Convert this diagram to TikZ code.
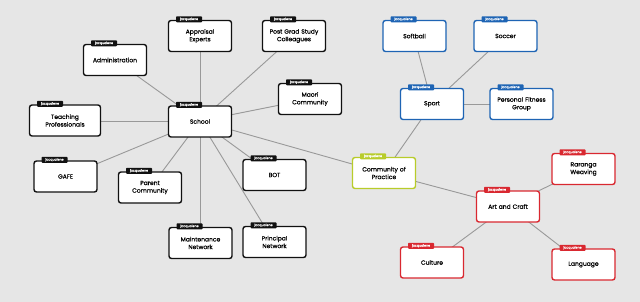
\documentclass[tikz,border=0pt]{standalone}
\usepackage{fontspec}
\setmainfont{Poppins}
\newfontfamily\cardfont{Poppins}[FakeBold=0.6]
\newfontfamily\tagfont{Poppins}[FakeBold=0.4]
\definecolor{bg}{HTML}{E6E6E6}
\definecolor{edgec}{HTML}{999999}
\definecolor{blk}{HTML}{111111}
\definecolor{blu}{HTML}{1E64B4}
\definecolor{grn}{HTML}{B8CC2A}
\definecolor{rd}{HTML}{D92830}
\tikzset{
  card/.style={draw=#1, fill=white, line width=1.4pt, rounded corners=2.5pt,
    minimum width=63pt, minimum height=31pt, inner sep=1pt, align=center,
    font=\cardfont\fontsize{6}{7.6}\selectfont, text width=60pt},
  card/.default=blk,
  tagbox/.style={fill=#1, inner sep=0pt, minimum width=26pt, minimum height=6pt,
    rounded corners=0.8pt,
    text=white, font=\tagfont\fontsize{3.2}{3.2}\selectfont, anchor=west},
  link/.style={draw=edgec, line width=0.9pt}
}
\newcommand{\cardnode}[5]{%
  \node[card=#2] (#1) at (#3,#4) {#5};
  \node[tagbox=#2] (#1tag) at ([xshift=8pt,yshift=0.5pt]#1.north west) {jacqualene};
}
\begin{document}
\begin{tikzpicture}[x=1pt,y=-1pt]
\fill[bg] (0,0) rectangle (640,302);
\useasboundingbox (0,0) rectangle (640,302);
\begin{scope}[every node/.style={inner sep=0pt, minimum size=0pt}]
\node (cschool) at (200,121) {};
\node (cadmin) at (115,60) {};
\node (capp) at (200,36) {};
\node (cpost) at (294,36) {};
\node (cmaori) at (310,99) {};
\node (cteach) at (65,121) {};
\node (cgafe) at (65,177) {};
\node (cparent) at (150,188) {};
\node (cmaint) at (200,243) {};
\node (cprin) at (274,242) {};
\node (cbot) at (274,175) {};
\node (ccop) at (384,173) {};
\node (csport) at (432,104) {};
\node (csoft) at (414,36) {};
\node (csoc) at (505,36) {};
\node (cpfg) at (522,104) {};
\node (cart) at (508,206) {};
\node (crar) at (583,169) {};
\node (ccul) at (432,262) {};
\node (clang) at (583,264) {};
\end{scope}
\foreach \t in {cadmin,capp,cpost,cmaori,cteach,cgafe,cparent,cmaint,cprin,cbot,ccop}
  \draw[link] (cschool) -- (\t);
\foreach \t in {csport,cart}
  \draw[link] (ccop) -- (\t);
\foreach \t in {csoft,csoc,cpfg}
  \draw[link] (csport) -- (\t);
\foreach \t in {crar,ccul,clang}
  \draw[link] (cart) -- (\t);
\cardnode{school}{blk}{200}{121.5}{School}
\cardnode{admin}{blk}{115}{60}{Administration}
\cardnode{app}{blk}{200}{36}{Appraisal\\Experts}
\cardnode{post}{blk}{294}{36}{Post Grad Study\\Colleagues}
\cardnode{maori}{blk}{310}{99}{Maori\\Community}
\node[card=blk, minimum width=71pt, text width=68pt] (teach) at (65,120.5) {Teaching\\Professionals};
\node[tagbox=blk] (teachtag) at ([xshift=8pt,yshift=0.5pt]teach.north west) {jacqualene};
\cardnode{gafe}{blk}{65.5}{176.5}{GAFE}
\cardnode{parent}{blk}{150}{187.5}{Parent\\Community}
\cardnode{maint}{blk}{200.5}{243}{Maintenance\\Network}
\cardnode{prin}{blk}{274.5}{242}{Principal\\Network}
\cardnode{bot}{blk}{274.5}{175}{BOT}
\cardnode{cop}{grn}{384}{173}{Community of\\Practice}
\cardnode{sport}{blu}{432}{104}{Sport}
\cardnode{soft}{blu}{414.5}{36}{Softball}
\cardnode{soc}{blu}{505.5}{36}{Soccer}
\cardnode{pfg}{blu}{521.5}{104}{Personal Fitness\\Group}
\cardnode{art}{rd}{508}{206.5}{Art and Craft}
\cardnode{rar}{rd}{583.5}{169}{Raranga\\Weaving}
\cardnode{cul}{rd}{432}{262.5}{Culture}
\cardnode{lang}{rd}{583.5}{264.5}{Language}
\end{tikzpicture}
\end{document}
